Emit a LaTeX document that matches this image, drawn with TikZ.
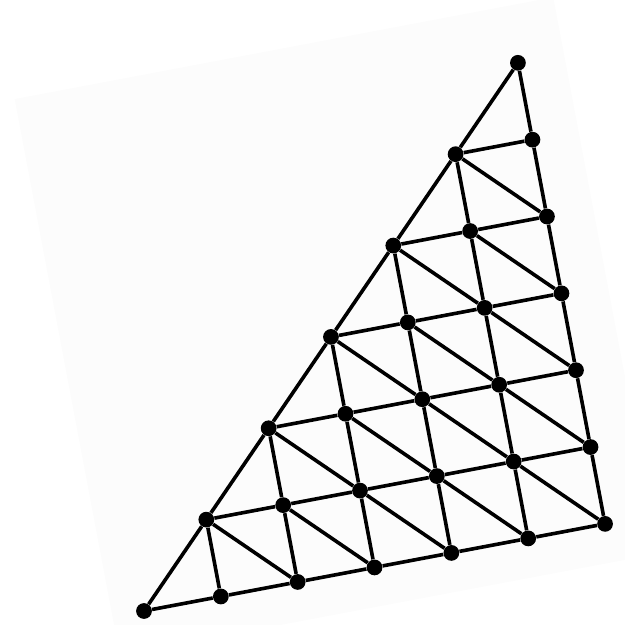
\documentclass[tikz,border=0pt]{standalone}
\definecolor{bgpaper}{RGB}{252,252,252}
\tikzset{
  dot/.style={circle,fill=black,draw=none,inner sep=0pt,minimum size=0.315cm},
  edge/.style={draw=black,line width=2.05pt}
}
\begin{document}
\begin{tikzpicture}
\useasboundingbox (0,0) rectangle (12.5,12.5);
\begin{scope}[shift={(2.88,0.28)}, x={(1.5368cm,0.2904cm)}, y={(-0.2904cm,1.5368cm)}]
  \fill[bgpaper] (-0.41,-0.50) -- (6.60,-0.50) -- (6.60,6.74) -- (-0.41,6.74) -- cycle;
  \foreach \x in {0,...,6} {
    \foreach \y in {0,...,\x} {
      \node[dot] (n-\x-\y) at (\x,\y) {};
    }
  }
  % horizontal rows
  \foreach \x in {0,...,5} {
    \pgfmathtruncatemacro\xn{\x+1}
    \foreach \y in {0,...,\x} {
      \draw[edge] (n-\x-\y) -- (n-\xn-\y);
    }
  }
  % steep lines
  \foreach \x in {1,...,6} {
    \pgfmathtruncatemacro\ym{\x-1}
    \foreach \y in {0,...,\ym} {
      \pgfmathtruncatemacro\yn{\y+1}
      \draw[edge] (n-\x-\y) -- (n-\x-\yn);
    }
  }
  % hypotenuse
  \foreach \x in {0,...,5} {
    \pgfmathtruncatemacro\xn{\x+1}
    \draw[edge] (n-\x-\x) -- (n-\xn-\xn);
  }
  % anti-diagonals
  \foreach \x in {1,...,5} {
    \pgfmathtruncatemacro\ym{\x-1}
    \pgfmathtruncatemacro\xn{\x+1}
    \foreach \y in {0,...,\ym} {
      \pgfmathtruncatemacro\yn{\y+1}
      \draw[edge] (n-\x-\yn) -- (n-\xn-\y);
    }
  }
\end{scope}
\end{tikzpicture}
\end{document}
